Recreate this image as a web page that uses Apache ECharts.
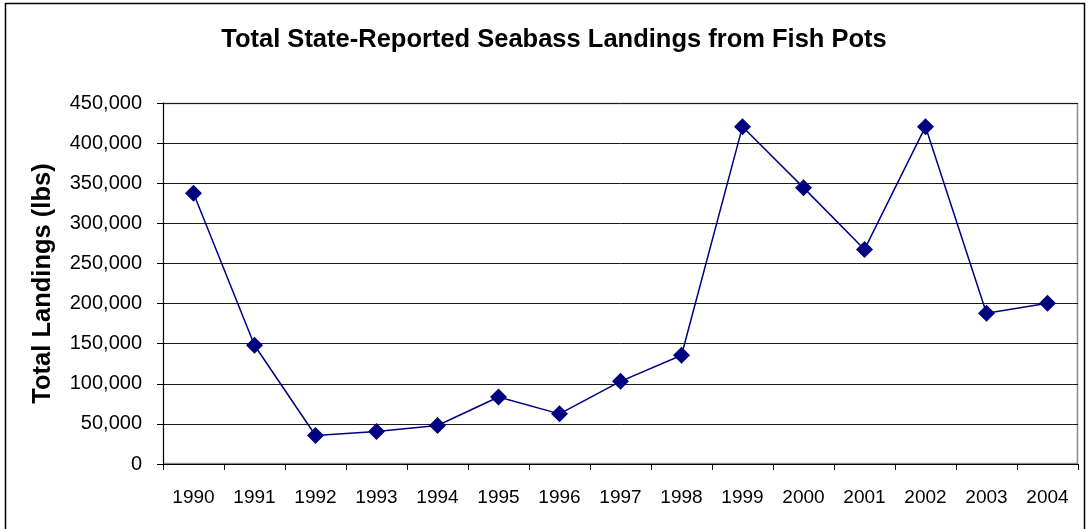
<!DOCTYPE html>
<html>
<head>
<meta charset="utf-8">
<script src="https://cdn.jsdelivr.net/npm/echarts@6/dist/echarts.min.js"></script>
<style>
    html, body { margin: 0; padding: 0; background: #fff; }
    #main { width: 1088px; height: 529px; }
</style>
</head>
<body>
<div id="main"></div>
<script>
var years = ['1990', '1991', '1992', '1993', '1994', '1995', '1996', '1997',
    '1998', '1999', '2000', '2001', '2002', '2003', '2004'];
var landings = [337500, 148000, 35500, 40500, 48000, 83500, 62500, 103000,
    135500, 420500, 344500, 267500, 420500, 188000, 200500];
var yTicks = [0, 50000, 100000, 150000, 200000, 250000, 300000, 350000, 400000, 450000];

var myChart = echarts.init(document.getElementById('main'));

var option = {
    animation: false,
    textStyle: { fontFamily: 'Liberation Sans' },
    title: {
        text: 'Total State-Reported Seabass Landings from Fish Pots',
        left: 549,
        textAlign: 'center',
        top: 22,
        textStyle: {
            color: '#000',
            fontSize: 25.5,
            fontWeight: 'bold',
            fontFamily: 'Liberation Sans'
        }
    },
    graphic: [{
        type: 'rect',
        shape: { x: 5.5, y: 3.5, width: 1079, height: 540 },
        style: { fill: 'none', stroke: '#000', lineWidth: 1.5 },
        silent: true
    }, {
        // grey frame round the plot area
        type: 'rect',
        shape: { x: 163.5, y: 103.5, width: 914, height: 360 },
        style: { fill: 'none', stroke: '#8c8c8c', lineWidth: 1.5 },
        silent: true,
        z: -1
    }],
    grid: {
        left: 163,
        right: 10,
        top: 103,
        bottom: 65,
        containLabel: false
    },
    xAxis: {
        type: 'category',
        data: years,
        boundaryGap: true,
        axisLine: { lineStyle: { color: '#000', width: 1 } },
        axisTick: { show: true, length: 6, inside: false, lineStyle: { color: '#000' } },
        axisLabel: {
            color: '#000',
            fontSize: 19,
            margin: 24
        },
        splitLine: { show: false }
    },
    yAxis: {
        type: 'value',
        min: yTicks[0],
        max: yTicks[yTicks.length - 1],
        interval: 50000,
        name: 'Total Landings (lbs)',
        nameLocation: 'middle',
        nameGap: 107,
        nameRotate: 90,
        nameTextStyle: {
            color: '#000',
            fontSize: 25.5,
            fontWeight: 'bold'
        },
        axisLine: { show: true, lineStyle: { color: '#000', width: 1 } },
        axisTick: { show: true, length: 6, lineStyle: { color: '#000' } },
        axisLabel: {
            color: '#000',
            fontSize: 20,
            margin: 21,
            formatter: function (v) {
                return v.toLocaleString('en-US');
            }
        },
        splitLine: { show: true, lineStyle: { color: '#1a1a1a', width: 1 } }
    },
    series: [{
        type: 'line',
        data: landings,
        symbol: 'diamond',
        symbolSize: 17,
        itemStyle: { color: '#000080' },
        lineStyle: { color: '#000080', width: 1.5 }
    }]
};
myChart.setOption(option);
</script>
</body>
</html>
